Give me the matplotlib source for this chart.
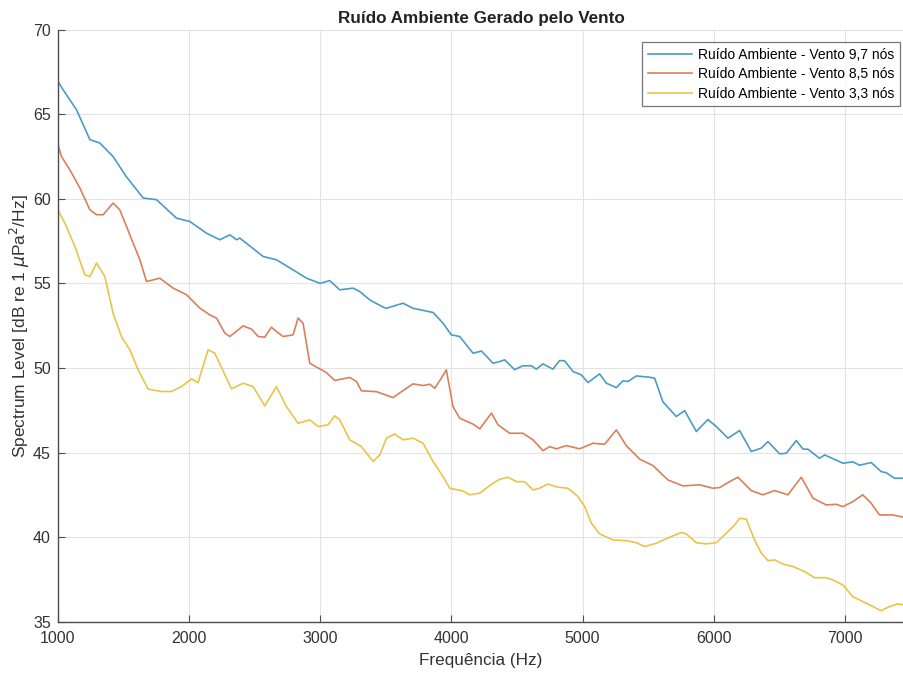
import numpy as np
import matplotlib
matplotlib.use("Agg")
import matplotlib.pyplot as plt

plt.rcParams['font.family'] = ['Liberation Sans', 'DejaVu Sans']

# ---- data ----
f_97 = [1000, 1040, 1142, 1244, 1320, 1421, 1523, 1650, 1752, 1904, 2006, 2133, 2234, 2311,
        2362, 2387, 2565, 2666, 2793, 2895, 3000, 3072, 3149, 3250, 3301, 3377, 3479, 3505,
        3631, 3707, 3860, 3936, 3999, 4063, 4165, 4229, 4317, 4368, 4406, 4482, 4545, 4609,
        4647, 4698, 4774, 4825, 4863, 4927, 4990, 5041, 5130, 5181, 5257, 5308, 5346, 5410,
        5511, 5549, 5612, 5714, 5778, 5867, 5955, 6019, 6108, 6197, 6286, 6362, 6413, 6502,
        6553, 6629, 6680, 6717, 6806, 6845, 6984, 7060, 7111, 7200, 7276, 7314, 7378, 7450]
v_97 = [66.95, 66.45, 65.27, 63.5, 63.3, 62.5, 61.3, 60.05, 59.95, 58.86, 58.66, 57.97, 57.58, 57.87,
        57.58, 57.68, 56.59, 56.4, 55.8, 55.31, 55.0, 55.17, 54.62, 54.72, 54.52, 54.03, 53.6, 53.53,
        53.83, 53.53, 53.28, 52.65, 51.96, 51.86, 50.87, 51.0, 50.28, 50.38, 50.48, 49.9, 50.13, 50.13,
        49.93, 50.24, 49.93, 50.44, 50.42, 49.79, 49.59, 49.14, 49.65, 49.1, 48.84, 49.24, 49.2, 49.53,
        49.45, 49.4, 48.0, 47.13, 47.48, 46.24, 46.95, 46.54, 45.85, 46.3, 45.06, 45.26, 45.65, 44.92,
        44.96, 45.71, 45.2, 45.2, 44.66, 44.86, 44.37, 44.45, 44.25, 44.41, 43.87, 43.81, 43.48, 43.48]

f_85 = [1000, 1028, 1091, 1168, 1244, 1295, 1345, 1421, 1472, 1523, 1574, 1625, 1676, 1726,
        1777, 1879, 1981, 2082, 2158, 2209, 2273, 2311, 2412, 2476, 2527, 2577, 2628, 2666,
        2717, 2793, 2831, 2869, 2920, 2996, 3047, 3111, 3225, 3276, 3314, 3428, 3555, 3657,
        3707, 3784, 3835, 3873, 3923, 3961, 3987, 4012, 4063, 4165, 4216, 4305, 4355, 4444,
        4545, 4622, 4698, 4749, 4800, 4876, 4978, 5079, 5168, 5257, 5333, 5435, 5536, 5651,
        5765, 5892, 5993, 6044, 6121, 6184, 6286, 6375, 6464, 6565, 6667, 6756, 6858, 6933,
        6984, 7060, 7136, 7200, 7263, 7365, 7450]
v_85 = [63.2, 62.5, 61.72, 60.64, 59.35, 59.06, 59.06, 59.75, 59.35, 58.37, 57.38, 56.4, 55.11, 55.21,
        55.31, 54.72, 54.33, 53.54, 53.14, 52.95, 52.06, 51.86, 52.49, 52.3, 51.86, 51.82, 52.41, 52.16,
        51.86, 51.96, 52.95, 52.65, 50.28, 49.95, 49.73, 49.26, 49.44, 49.2, 48.65, 48.6, 48.25, 48.8,
        49.06, 48.96, 49.04, 48.8, 49.4, 49.89, 48.8, 47.72, 47.03, 46.68, 46.4, 47.33, 46.64, 46.14,
        46.14, 45.75, 45.11, 45.35, 45.22, 45.41, 45.22, 45.55, 45.49, 46.34, 45.41, 44.61, 44.23, 43.38,
        43.03, 43.09, 42.89, 42.93, 43.28, 43.54, 42.75, 42.5, 42.75, 42.5, 43.54, 42.3, 41.9, 41.94,
        41.8, 42.1, 42.5, 42.0, 41.31, 41.31, 41.17]

f_33 = [1000, 1053, 1130, 1206, 1244, 1295, 1358, 1421, 1485, 1549, 1612, 1688, 1790, 1866,
        1942, 2019, 2069, 2145, 2196, 2324, 2412, 2488, 2577, 2666, 2742, 2831, 2920, 2984,
        3060, 3111, 3149, 3225, 3314, 3403, 3454, 3505, 3568, 3631, 3707, 3784, 3860, 3936,
        3987, 4088, 4139, 4216, 4317, 4368, 4431, 4495, 4558, 4622, 4673, 4736, 4812, 4888,
        4965, 5016, 5067, 5130, 5232, 5333, 5410, 5473, 5562, 5663, 5752, 5790, 5867, 5943,
        6019, 6095, 6159, 6197, 6248, 6311, 6362, 6413, 6464, 6527, 6604, 6692, 6768, 6858,
        6908, 6984, 7060, 7162, 7276, 7339, 7403, 7450]
v_33 = [59.35, 58.57, 57.18, 55.5, 55.41, 56.2, 55.41, 53.24, 51.86, 51.07, 49.89, 48.75, 48.61, 48.61,
        48.9, 49.35, 49.14, 51.07, 50.88, 48.76, 49.1, 48.9, 47.76, 48.9, 47.72, 46.73, 46.93, 46.54,
        46.64, 47.17, 46.93, 45.75, 45.35, 44.47, 44.86, 45.85, 46.1, 45.75, 45.85, 45.55, 44.47, 43.58,
        42.89, 42.73, 42.5, 42.6, 43.19, 43.42, 43.54, 43.28, 43.28, 42.79, 42.89, 43.14, 42.95, 42.89,
        42.4, 41.8, 40.82, 40.19, 39.83, 39.79, 39.67, 39.44, 39.64, 39.99, 40.27, 40.19, 39.67, 39.6,
        39.67, 40.23, 40.72, 41.11, 41.06, 39.83, 39.05, 38.61, 38.65, 38.41, 38.26, 37.96, 37.6, 37.6,
        37.47, 37.17, 36.48, 36.09, 35.65, 35.89, 36.05, 35.99]

labels = ["Ruído Ambiente - Vento 9,7 nós",
          "Ruído Ambiente - Vento 8,5 nós",
          "Ruído Ambiente - Vento 3,3 nós"]
colors = ["#4a9cc4", "#d9805c", "#e9c448"]

xticks = [1000, 2000, 3000, 4000, 5000, 6000, 7000]
yticks = [35, 40, 45, 50, 55, 60, 65, 70]

fig = plt.figure(figsize=(9.04, 6.75), dpi=100)
ax = fig.add_axes([0.064, 0.079, 0.936, 0.877])

for fx, vy, lab, c in zip([f_97, f_85, f_33], [v_97, v_85, v_33], labels, colors):
    ax.plot(fx, vy, color=c, linewidth=1.2, label=lab)

ax.set_xlim(1000, 7450)
ax.set_ylim(35, 70)
ax.set_xticks(xticks)
ax.set_yticks(yticks)
ax.grid(True, color="#e3e3e3", linewidth=0.8)
ax.set_axisbelow(True)

for s in ["top", "right"]:
    ax.spines[s].set_visible(False)
for s in ["left", "bottom"]:
    ax.spines[s].set_color("#4d4d4d")
    ax.spines[s].set_linewidth(1.0)
ax.tick_params(direction="in", length=5, color="#4d4d4d", labelsize=11.5,
               labelcolor="#333333", width=0.8)
ax.tick_params(axis="x", pad=7)
ax.tick_params(axis="y", pad=5)

ax.set_title("Ruído Ambiente Gerado pelo Vento", fontsize=12.3, fontweight="bold",
             color="#222222", pad=5)
ax.set_xlabel("Frequência (Hz)", fontsize=12.3, color="#333333", labelpad=5)
ax.set_ylabel(r"Spectrum Level [dB re 1 $\mu$Pa$^2$/Hz]", fontsize=12.5,
              color="#333333", labelpad=1)

leg = ax.legend(loc="upper right", bbox_to_anchor=(0.995, 0.979), fontsize=10,
                frameon=True, fancybox=False, handlelength=3.2, borderpad=0.4,
                labelspacing=0.4, handletextpad=0.4, borderaxespad=0)
leg.get_frame().set_edgecolor("#555555")
leg.get_frame().set_linewidth(0.9)

fig.savefig("out.png", dpi=100)
